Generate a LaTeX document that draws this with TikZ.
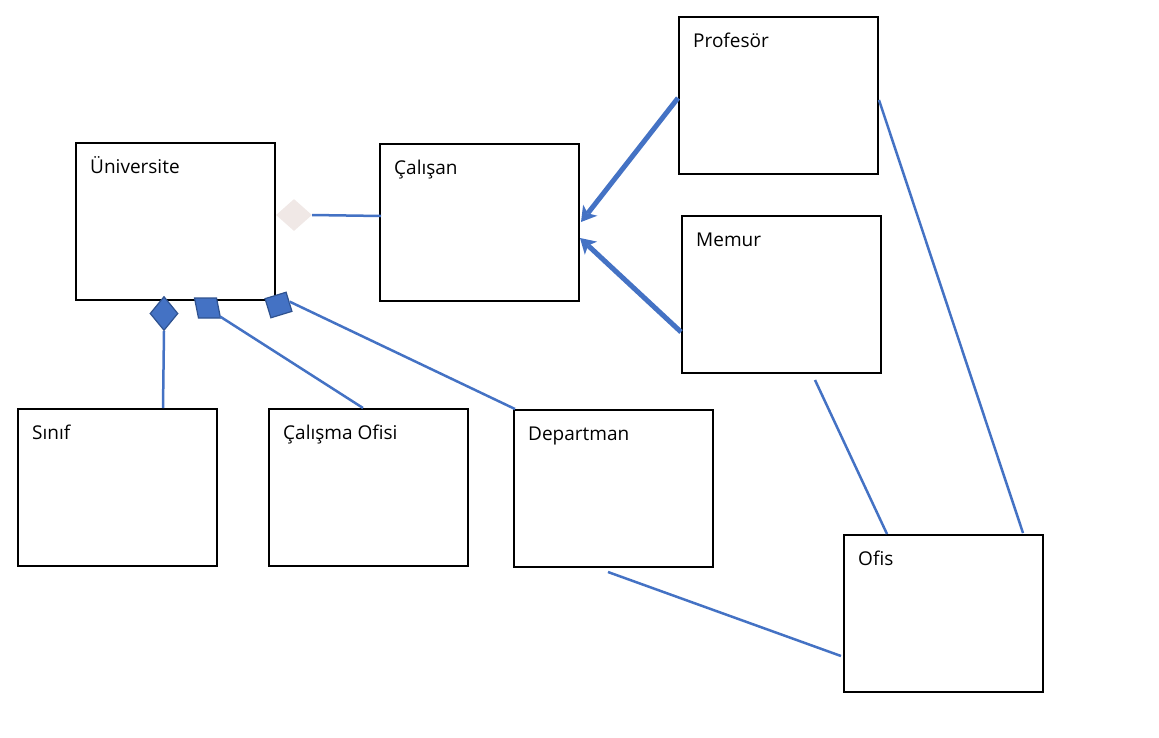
\documentclass[tikz,border=0pt]{standalone}
\usepackage{fontspec}
\setmainfont{Open Sans}
\usepackage{tikz}
\usetikzlibrary{calc,shapes.geometric,arrows.meta}
\definecolor{UmlBlue}{RGB}{68,114,196}
\definecolor{UmlBlueDark}{RGB}{47,82,143}
\definecolor{UmlPale}{RGB}{240,232,230}

\begin{document}
\begin{tikzpicture}[x=1pt,y=-1pt,
  cls/.style={draw=black,line width=2pt,minimum width=199pt,minimum height=157pt,inner sep=0pt},
  lbl/.style={anchor=base west,inner sep=0pt,font=\fontsize{19}{23}\selectfont},
  agg/.style={fill=UmlBlue,draw=UmlBlueDark,line width=1.2pt,inner sep=0pt},
  link/.style={UmlBlue,line width=2.5pt},
  gen/.style={UmlBlue,line width=5pt,-{Stealth[length=15pt 0,width=18pt 0,inset=4pt 0,line width=0pt]}}]
\useasboundingbox (0,0) rectangle (1159,737);
\foreach \n/\x/\y/\t in %
{uni/175.5/221.5/Üniversite,calisan/479.5/222.5/Çalışan,profesor/778.5/95.5/Profesör,
 memur/781.5/294.5/Memur,sinif/117.5/487.5/Sınıf,calisma/368.5/487.5/Çalışma Ofisi,
 departman/613.5/488.5/Departman,ofis/943.5/613.5/Ofis} {
   \node[cls] (\n) at (\x,\y) {};
   \node[lbl] (\n-t) at ($(\n.north west)+(15,31)$) {\t};
}
% aggregation / composition ends
\node[diamond,fill=UmlPale,inner sep=0pt,minimum width=36pt,minimum height=32pt] (dcal) at (294,215) {};
\node[agg,diamond,minimum width=28pt,minimum height=34pt] (dsinif) at (164,313.5) {};
\node[agg,rectangle,minimum width=22pt,minimum height=20pt,xslant=-0.2,transform shape] (dofisi) at (207.5,308) {};
\node[agg,rectangle,minimum width=22pt,minimum height=20pt,rotate=17] (ddep) at (278.5,305) {};
\draw[link] (dcal.east) -- ($(calisan.west)+(2,-6.5)$);
\draw[link] (dsinif.south) -- ($(sinif.north west)+(146,0)$);
\draw[link] ($(dofisi.south east)+(-1,-2)$) -- ($(calisma.north)+(-5.5,0)$);
\draw[link] (ddep.east) -- ($(departman.north west)+(2,0)$);
% inheritance
\draw[gen] ($(profesor.west)+(0,2.5)$) -- ($(calisan.east)+(1,-0.5)$);
\draw[gen] ($(memur.west)+(0,37.5)$) -- ($(calisan.east)+(0,15.5)$);
% office links
\draw[link] ($(memur.south)+(33.5,6)$) -- ($(ofis.north)+(-56.5,0)$);
\draw[link] ($(profesor.east)+(0,4.5)$) -- ($(ofis.north east)+(-21,-1)$);
\draw[link] ($(departman.south)+(-5.5,4)$) -- ($(ofis.west)+(-2,42.5)$);
\end{tikzpicture}
\end{document}
